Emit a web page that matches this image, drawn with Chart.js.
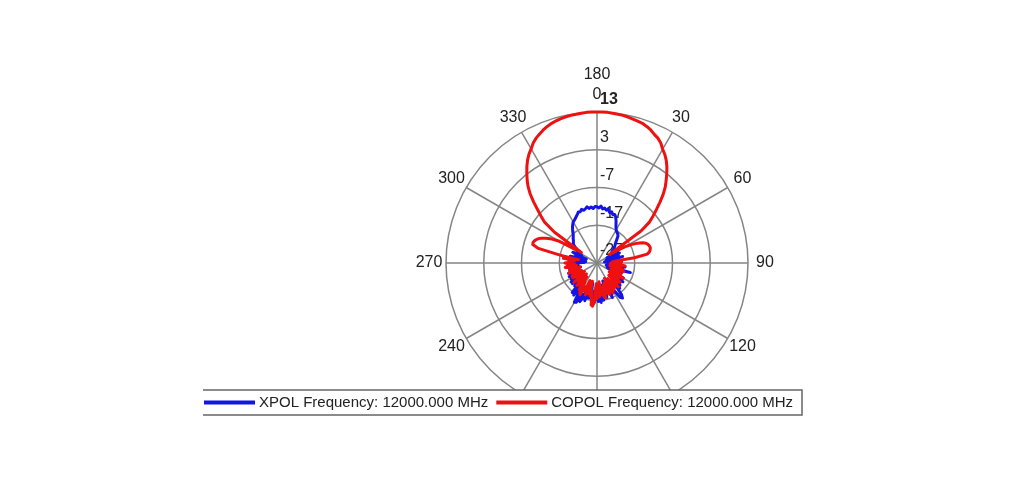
<!DOCTYPE html>
<html>
<head>
<meta charset="utf-8">
<title>XPOL / COPOL pattern</title>
<script src="https://cdn.jsdelivr.net/npm/chart.js@4.4.1/dist/chart.umd.min.js"></script>
<style>
  html, body { margin: 0; padding: 0; background: #fff; }
  #wrap { width: 1024px; height: 486px; }
</style>
</head>
<body>
<div id="wrap"><canvas id="polarChart" width="1024" height="486"></canvas></div>
<script>
// sample angles, degrees clockwise from the top, every 2 degrees
const angles = Array.from({ length: 180 }, (_, i) => i * 2);

// radial axis (dB)
const radialTicks = [-27, -17, -7, 3, 13];

// angular labels that are visible in the picture
const labelAngles = [0, 30, 60, 90, 120, 240, 270, 300, 330];
const topExtraLabel = "180";

// COPOL, one row per 30 degrees (0-28, 30-58, ...)
const copol = [
  13.0, 13.0, 13.0, 12.9, 12.8, 12.7, 12.5, 12.3, 12.1, 11.9, 11.5, 11.0, 10.3, 9.8, 9.0,
  7.8, 6.9, 5.8, 4.5, 3.0, 1.5, 0.0, -1.8, -3.8, -5.8, -7.6, -9.3, -12.5, -23.0, -21.0,
  -18.5, -16.5, -15.0, -13.8, -13.0, -12.6, -12.4, -12.3, -12.5, -12.8, -13.5, -17.0, -22.0, -23.0, -20.5,
  -22.0, -23.5, -21.0, -19.5, -22.5, -21.0, -23.5, -20.0, -22.0, -19.5, -22.5, -20.5, -23.0, -20.0, -21.5,
  -19.0, -22.5, -20.0, -23.0, -21.0, -19.0, -22.0, -19.5, -22.5, -18.5, -21.0, -19.5, -19.0, -22.0, -18.5,
  -21.0, -18.0, -22.5, -19.5, -18.0, -21.5, -18.5, -21.0, -17.5, -17.8, -20.5, -18.5, -22.0, -18.0, -20.0,
  -17.5, -21.5, -16.5, -15.5, -15.8, -19.5, -18.0, -22.0, -18.5, -20.5, -18.0, -22.0, -19.0, -20.0, -17.5,
  -17.8, -21.0, -18.5, -22.5, -19.5, -21.5, -19.0, -23.0, -20.0, -22.0, -19.0, -22.5, -20.5, -23.0, -19.5,
  -22.0, -19.5, -22.5, -20.0, -21.5, -19.0, -21.0, -19.5, -22.5, -19.5, -21.0, -18.5, -21.5, -19.0, -21.0,
  -18.5, -20.0, -19.5, -21.0, -18.0, -22.0, -17.0, -11.0, -9.3, -9.2, -9.5, -10.0, -10.8, -12.0, -13.5,
  -15.5, -20.0, -22.0, -13.0, -9.3, -7.6, -5.8, -3.6, -1.5, 0.3, 1.8, 3.2, 4.6, 5.9, 7.0,
  7.9, 9.0, 9.8, 10.4, 11.0, 11.5, 11.9, 12.2, 12.4, 12.6, 12.7, 12.8, 12.9, 13.0, 13.0
];

// XPOL, same layout
const xpol = [
  -12.1, -12.4, -11.9, -12.6, -12.3, -12.8, -12.5, -13.2, -12.9, -13.5, -13.3, -13.8, -14.6, -15.5, -16.3,
  -16.8, -17.2, -17.4, -17.6, -18.0, -18.8, -19.5, -20.0, -20.4, -20.8, -21.2, -22.0, -21.0, -20.8, -23.0,
  -21.5, -24.0, -22.0, -20.5, -23.5, -21.0, -24.5, -22.0, -20.0, -23.0, -21.5, -25.0, -22.0, -20.5, -23.5,
  -21.0, -24.0, -20.9, -22.5, -19.5, -23.0, -20.0, -24.5, -17.8, -21.5, -23.0, -20.0, -24.0, -21.0, -22.5,
  -19.0, -22.0, -19.5, -18.5, -22.0, -19.0, -20.5, -18.5, -21.5, -18.0, -20.0, -16.5, -15.5, -16.0, -18.5,
  -21.0, -18.0, -20.0, -17.0, -20.5, -18.5, -22.0, -17.5, -19.0, -21.0, -17.0, -19.5, -16.5, -18.5, -16.8,
  -18.0, -20.5, -16.5, -16.8, -19.5, -17.5, -21.5, -17.5, -19.0, -16.5, -20.5, -17.0, -15.8, -18.0, -15.2,
  -15.0, -18.0, -20.0, -16.5, -19.0, -16.8, -21.0, -18.5, -19.5, -21.5, -18.5, -22.0, -18.5, -21.0, -19.0,
  -21.5, -19.5, -18.8, -22.0, -20.0, -19.0, -21.5, -19.5, -22.5, -19.5, -21.0, -19.0, -22.0, -19.8, -21.0,
  -20.0, -23.5, -21.0, -24.0, -20.5, -19.7, -22.5, -19.7, -23.0, -21.0, -24.0, -21.5, -20.0, -22.5, -21.0,
  -22.0, -21.5, -20.6, -19.8, -19.2, -18.8, -18.6, -18.3, -17.9, -17.6, -17.2, -16.6, -16.0, -15.4, -14.9,
  -14.4, -14.2, -13.9, -13.5, -13.1, -12.6, -12.7, -12.2, -12.6, -12.3, -11.9, -12.4, -12.1, -12.5, -12.0
];

const fontFamily = "'Liberation Sans', Arial, sans-serif";
const textColor = "#222";

// tick labels, angle labels and the boxed legend
const polarDecor = {
  id: "polarDecor",
  beforeDatasetsDraw(chart) {
    const r = chart.scales.r;
    const ctx = chart.ctx;
    ctx.save();
    ctx.fillStyle = textColor;
    ctx.textAlign = "left";
    ctx.textBaseline = "middle";
    r.ticks.forEach((tick) => {
      const isMax = tick.value === r.max;
      ctx.font = (isMax ? "bold 16px " : "16px ") + fontFamily;
      const y = r.yCenter - r.getDistanceFromCenterForValue(tick.value) - 12;
      ctx.fillText(String(tick.value), r.xCenter + 3, y);
    });
    ctx.restore();
  },
  afterDraw(chart) {
    const r = chart.scales.r;
    const ctx = chart.ctx;
    const outer = r.getDistanceFromCenterForValue(r.max);
    ctx.save();
    ctx.fillStyle = textColor;
    ctx.font = "16px " + fontFamily;
    ctx.textAlign = "center";
    ctx.textBaseline = "middle";
    labelAngles.forEach((a) => {
      const p = r.getPointPosition(angles.indexOf(a), outer + 17);
      ctx.fillText(String(a), p.x, p.y);
    });
    const top = r.getPointPosition(0, outer + 37);
    ctx.fillText(topExtraLabel, top.x, top.y);

    // legend box, open on the left like the original
    const boxL = 203, boxR = 802, boxT = 390, boxB = 415;
    ctx.fillStyle = "#fff";
    ctx.fillRect(boxL, boxT, boxR - boxL, boxB - boxT);
    ctx.strokeStyle = "#666";
    ctx.lineWidth = 1.5;
    ctx.beginPath();
    ctx.moveTo(boxL, boxT);
    ctx.lineTo(boxR, boxT);
    ctx.lineTo(boxR, boxB);
    ctx.lineTo(boxL, boxB);
    ctx.stroke();

    ctx.font = "15px " + fontFamily;
    ctx.textAlign = "left";
    let x = boxL + 1;
    const y = (boxT + boxB) / 2;
    chart.data.datasets.forEach((ds) => {
      ctx.strokeStyle = ds.borderColor;
      ctx.lineWidth = 4;
      ctx.beginPath();
      ctx.moveTo(x, y);
      ctx.lineTo(x + 51, y);
      ctx.stroke();
      x += 55;
      ctx.fillStyle = textColor;
      ctx.fillText(ds.label, x, y + 0.5);
      x += ctx.measureText(ds.label).width + 8;
    });
    ctx.restore();
  },
};

const ctx = document.getElementById("polarChart").getContext("2d");

new Chart(ctx, {
  type: "radar",
  data: {
    labels: angles,
    datasets: [
      {
        label: "XPOL Frequency: 12000.000 MHz",
        data: xpol,
        borderColor: "#1414e6",
        borderWidth: 3,
        fill: false,
        pointRadius: 0,
        order: 1,
      },
      {
        label: "COPOL Frequency: 12000.000 MHz",
        data: copol,
        borderColor: "#ee1111",
        borderWidth: 3,
        fill: false,
        pointRadius: 0,
        order: 0,
      },
    ],
  },
  options: {
    responsive: false,
    animation: false,
    events: [],
    layout: {
      padding: { left: 446, right: 276, top: 112, bottom: 72 },
    },
    plugins: {
      legend: { display: false },
      tooltip: { enabled: false },
    },
    elements: {
      line: { tension: 0, borderJoinStyle: "round" },
    },
    scales: {
      r: {
        min: radialTicks[0],
        max: radialTicks[radialTicks.length - 1],
        ticks: { stepSize: 10, display: false },
        grid: { circular: true, color: "#858585", lineWidth: 1.5 },
        angleLines: {
          color: "#858585",
          lineWidth: (c) => (angles[c.index] % 30 === 0 ? 1.5 : 0),
        },
        pointLabels: { display: false },
      },
    },
  },
  plugins: [polarDecor],
});
</script>
</body>
</html>
